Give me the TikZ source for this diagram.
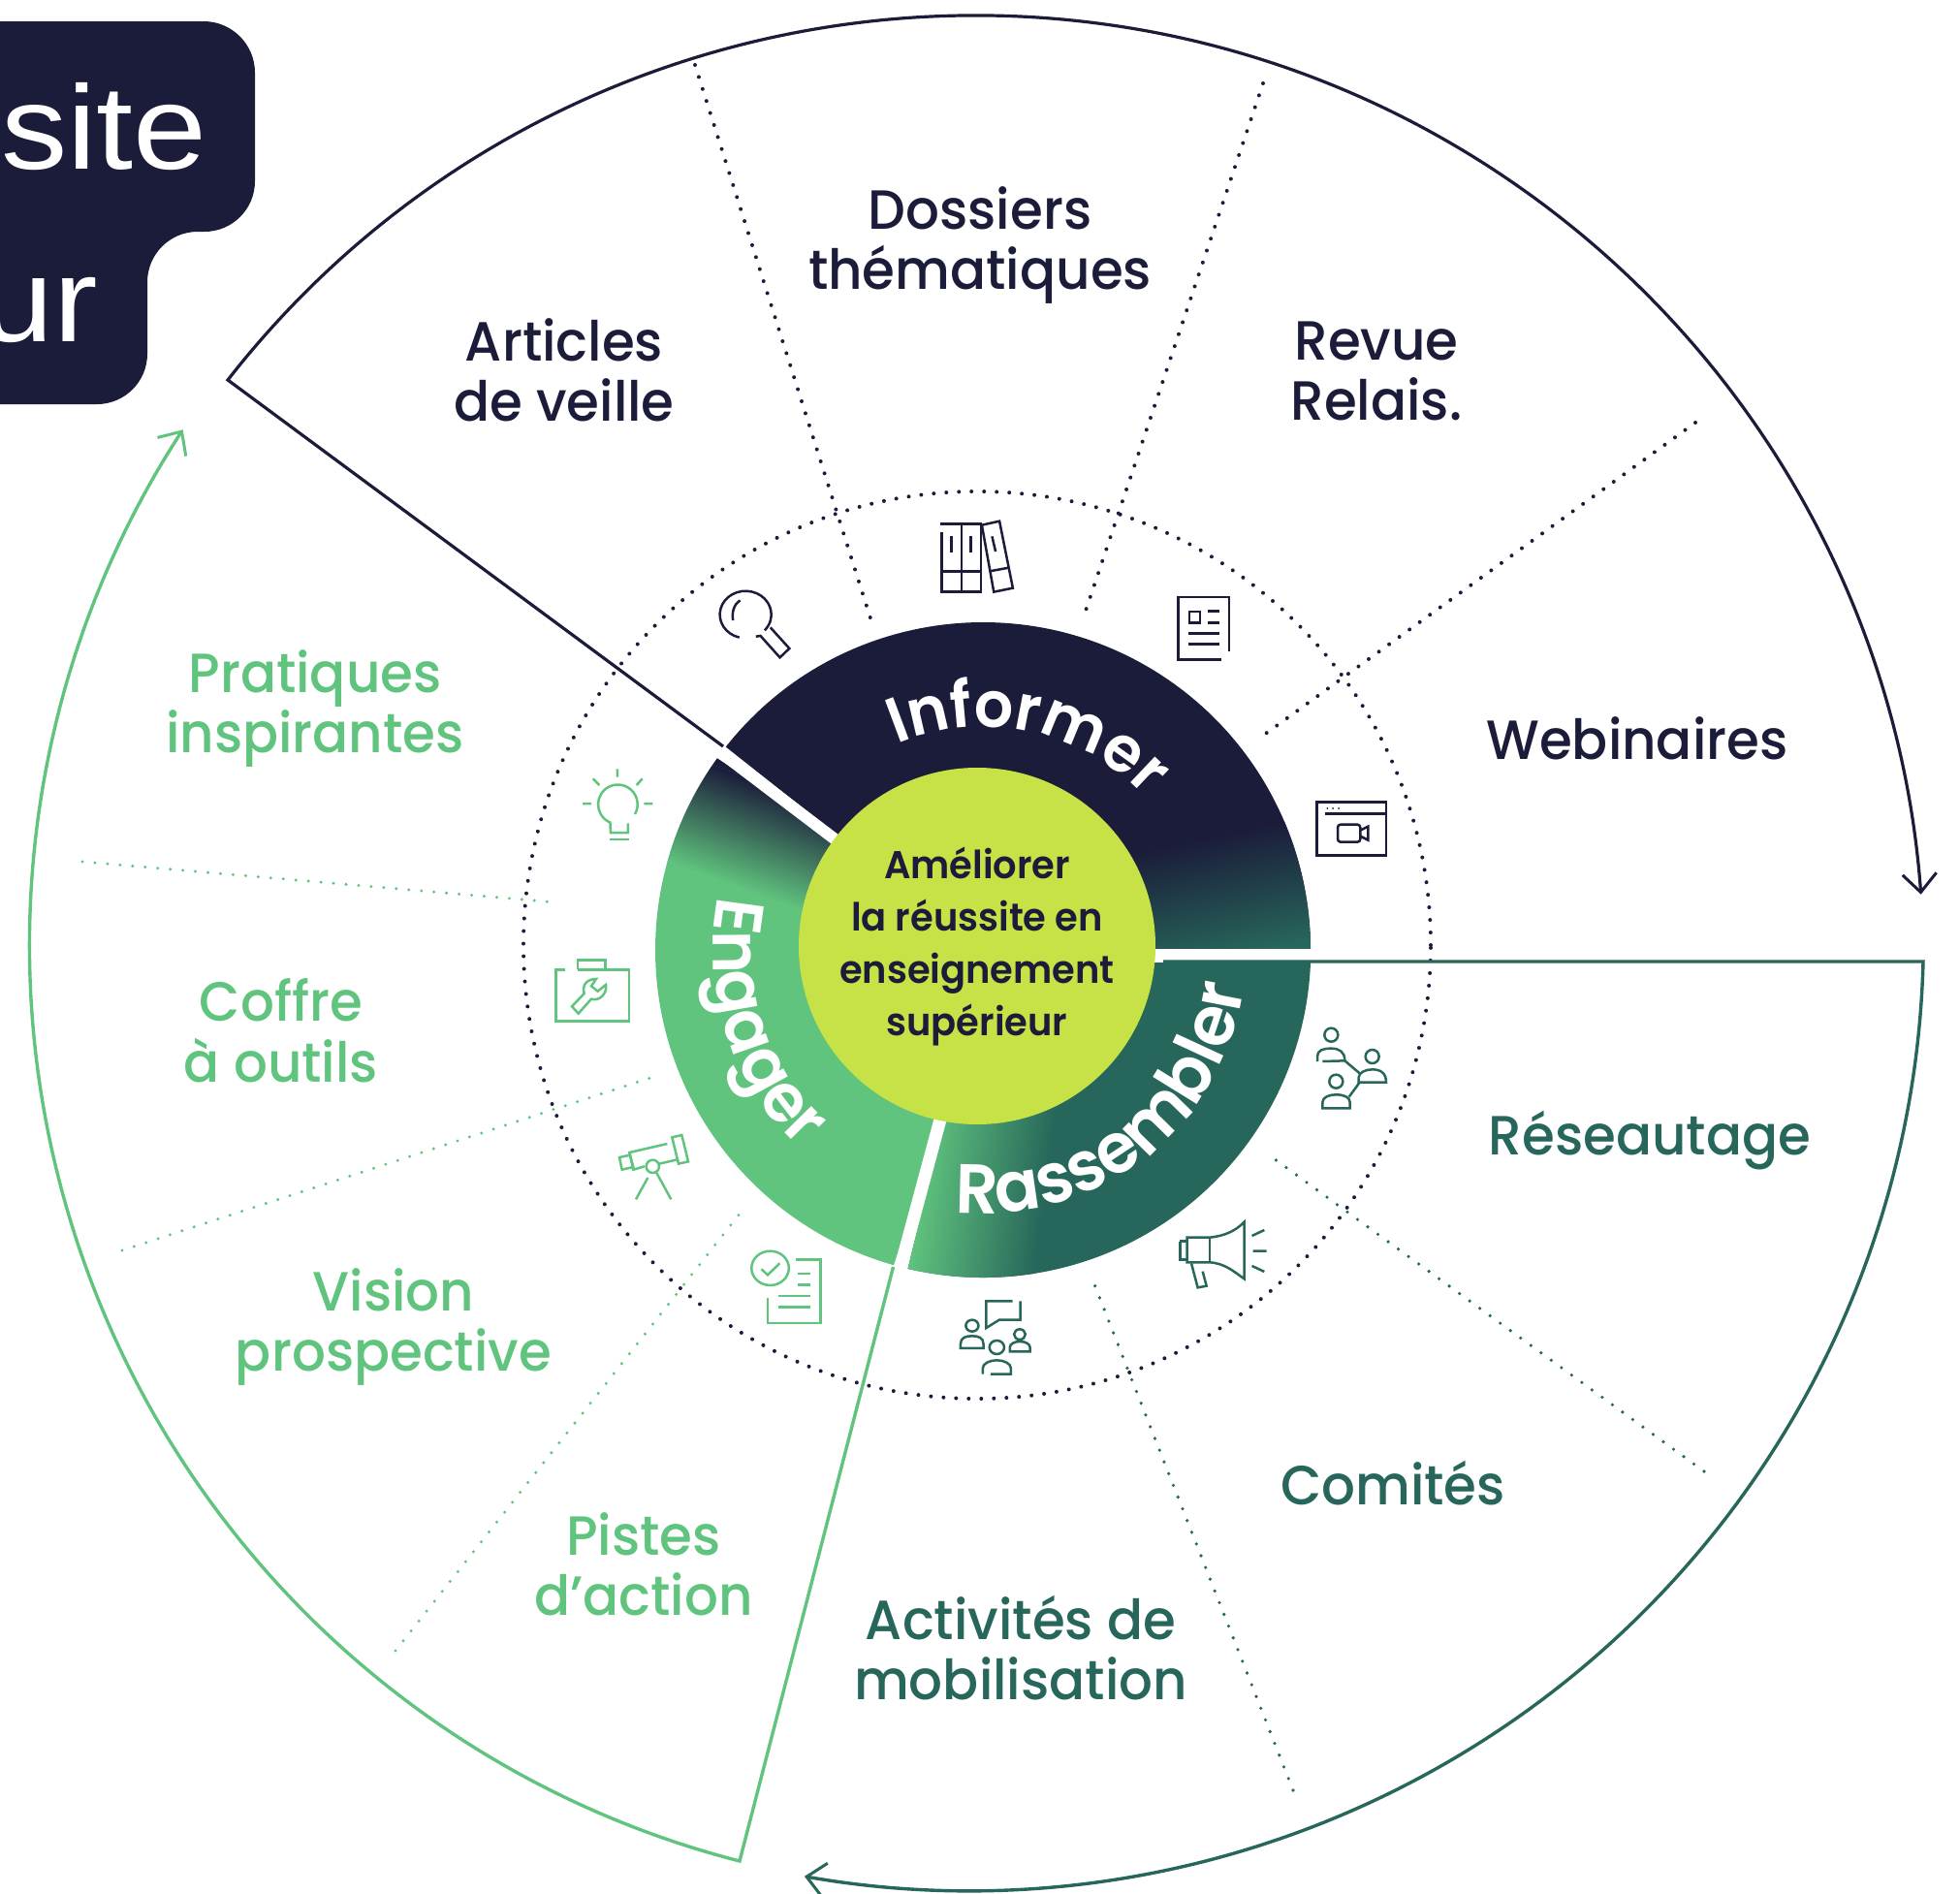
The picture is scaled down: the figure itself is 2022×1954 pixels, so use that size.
\documentclass[tikz,border=0pt]{standalone}
\usepackage{fontspec}
\usetikzlibrary{arrows.meta,decorations.text}
\setmainfont{Poppins}
\newfontfamily\popm[FakeStretch=0.96]{Poppins Medium}
\newfontfamily\pops[FakeStretch=0.96]{Poppins SemiBold}
\newfontfamily\ttl[FakeStretch=1.11]{Liberation Sans}
\definecolor{navy}{HTML}{1B1C3A}
\definecolor{dgreen}{HTML}{27665A}
\definecolor{lgreen}{HTML}{60C47E}
\definecolor{lime}{HTML}{C6E247}
\newcommand\lfont{\popm\fontsize{57}{62.5}\selectfont}
\tikzset{
 x=1pt,y=1pt,
 lab/.style={font=\lfont,align=center,inner sep=0pt,anchor=center},
 dots/.style={dash pattern=on 0pt off 13pt,line cap=round,line width=4pt},
 ico/.style={line width=2.5pt,line join=miter},
 barb/.style={-{Straight Barb[length=19pt,width=35pt,line width=3pt]}},
}
\begin{document}
\begin{tikzpicture}
\useasboundingbox (0,-1954) rectangle (2022,0);
% ---- title blob
\begin{scope}
\clip (0,-22) -- (210,-22) arc[start angle=90,end angle=0,radius=53] -- (263,-187)
  arc[start angle=0,end angle=-90,radius=52] -- (204,-239)
  arc[start angle=90,end angle=180,radius=52] -- (152,-365)
  arc[start angle=0,end angle=-90,radius=52] -- (0,-417) -- cycle;
\fill[navy] (0,0) rectangle (270,-420);
\node[text=white,font=\ttl\fontsize{123}{123}\selectfont,anchor=base east,inner sep=0pt] (t1) at (214,-174) {site};
\node[text=white,font=\ttl\fontsize{123}{123}\selectfont,anchor=base east,inner sep=0pt] (t2) at (101,-352) {ur};
\end{scope}
% ---- dotted circle
\draw[navy,dots] (1008,-975) circle[radius=468];
% ---- separators
\draw[navy,dots] (717,-67) -- (899,-641);
\draw[navy,dots] (1303,-86) -- (1120,-630);
\draw[navy,dots] (1749,-436) -- (1300,-761);
\draw[dgreen,dots,line width=3.6pt] (1758,-1518) -- (1311,-1193);
\draw[dgreen,dots,line width=3.6pt] (1334,-1847) -- (1129,-1325);
\draw[lgreen,dots,line width=3.3pt] (408,-1703) -- (764,-1251);
\draw[lgreen,dots,line width=3.3pt] (126,-1290) -- (671,-1112);
\draw[lgreen,dots,line width=3.3pt] (85,-889) -- (574,-931);
% ---- ring sectors
\begin{scope}
\clip (1014,-980) ++(141.7:338) arc[start angle=141.7,end angle=-1,radius=338] -- (1014,-980) -- cycle;
\fill[navy] (600,-500) rectangle (1400,-1000);
\begin{scope}[transform canvas={rotate around={12:(1200,-930)}}]
\shade[top color=navy,bottom color=dgreen] (1000,-875) rectangle (1500,-1000);
\fill[dgreen] (1000,-999) rectangle (1500,-1100);
\end{scope}
\end{scope}
\begin{scope}
\clip (1014,-993) -- (1352,-993) arc[start angle=-2.2,end angle=-103.3,radius=338] -- (975,-1150) -- cycle;
\fill[dgreen] (800,-950) rectangle (1400,-1400);
\begin{scope}[transform canvas={rotate around={-8:(1000,-1250)}}]
\fill[lgreen] (700,-1600) rectangle (945,-800);
\shade[left color=lgreen,right color=dgreen] (945,-1600) rectangle (1075,-800);
\end{scope}
\end{scope}
\begin{scope}
\clip (1014,-980) ++(254.2:338) arc[start angle=254.2,end angle=144.2,radius=338] -- (1010,-960) -- (975,-1150) -- cycle;
\fill[lgreen] (600,-600) rectangle (1100,-1400);
\begin{scope}[transform canvas={rotate around={-20:(743,-776)}}]
\fill[navy] (400,-500) rectangle (1300,-791);
\shade[top color=navy,bottom color=lgreen] (400,-791) rectangle (1300,-901);
\end{scope}
\end{scope}
% ---- white gaps
\fill[white] (1000,-979) rectangle (1356,-990);
\draw[white,line width=12pt] (722,-760) -- (880,-880);
\draw[white,line width=13pt] (970,-1155) -- (925,-1322);
% ---- outlines with arrows
\draw[navy,line width=3.2pt,line join=miter,barb] (746,-770) -- (235,-392)
  arc[start angle=142,end angle=4.2,radius=978.4];
\draw[dgreen,line width=3.4pt,line join=miter,barb] (1200,-992) -- (1984,-992)
  arc[start angle=-1.5,end angle=-99.95,radius=984.4];
\draw[lgreen,line width=3.4pt,line join=miter,barb] (921.5,-1307) -- (763,-1920)
  arc[start angle=255.6,end angle=146.9,radius=975];
% ---- lime circle
\node[circle,fill=lime,minimum size=368pt,inner sep=0pt] (hub) at (1008,-976) {};
\node[font=\pops\fontsize{40}{54}\selectfont,text=navy,align=center,inner sep=0pt] (hubt) at (1008,-976) {Améliorer\\la réussite en\\enseignement\\supérieur};
% ---- ring texts
\path[decorate,decoration={text along path,text align=center,
  text={|\pops\fontsize{66}{66}\selectfont\color{white}|Informer}}]
  (1014,-980) ++(130:230) arc[start angle=130,end angle=26,radius=230];
\path[decorate,decoration={text along path,text align=center,
  text={|\pops\fontsize{70}{70}\selectfont\color{white}|Engager}}]
  (1014,-980) ++(149.5:278) arc[start angle=149.5,end angle=246.5,radius=278];
\path[decorate,decoration={text along path,text align=center,
  text={|\pops\fontsize{72}{72}\selectfont\color{white}|Rassembler}}]
  (1014,-980) ++(-115.5:272) arc[start angle=-115.5,end angle=11.5,radius=272];
% ---- labels
\node[lab,text=navy] (a1) at (582,-382) {Articles\\de veille};
\node[lab,text=navy] (a2) at (1011,-253) {Dossiers\\thématiques};
\node[lab,text=navy] (a3) at (1420,-383) {Revue\\Relais.};
\node[lab,text=navy] (a4) at (1689,-762) {Webinaires};
\node[lab,text=dgreen] (b1) at (1702,-1177) {Réseautage};
\node[lab,text=dgreen] (b2) at (1437,-1530) {Comités};
\node[lab,text=dgreen] (b3) at (1053,-1700) {Activités de\\mobilisation};
\node[lab,text=lgreen] (c1) at (664,-1614) {Pistes\\d’action};
\node[lab,text=lgreen] (c2) at (406,-1369) {Vision\\prospective};
\node[lab,text=lgreen] (c3) at (290,-1063) {Coffre\\à outils};
\node[lab,text=lgreen] (c4) at (325,-731) {Pratiques\\inspirantes};
% ---- icons top
\begin{scope}[shift={(730,-520)},x=0.3636pt,y=-0.3333pt,navy,ico]
\draw (90,413) arc[start angle=104,end angle=402,radius=73];
\draw (92,298) .. controls (75,310) and (68,335) .. (72,360);
\draw (137,410) -- (150,408) -- (205,475) -- (232,447) -- (178,382);
\draw (660,62) -- (775,62) -- (775,272) -- (664,272) -- (664,88);
\draw (720,62) -- (720,272) (664,208) -- (775,208);
\draw (691,100) -- (691,150) (747,100) -- (747,150);
\draw (778,65) -- (828,53) -- (866,260) -- (812,272) -- cycle;
\draw (800,208) -- (855,197) (807,100) -- (817,147);
\draw (1480,455) -- (1480,288) -- (1335,288) -- (1335,482) -- (1458,482);
\draw (1367,333) rectangle (1397,367);
\draw (1420,332) -- (1452,332) (1420,367) -- (1452,367) (1365,400) -- (1452,400) (1365,434) -- (1452,434);
\end{scope}
% video
\begin{scope}[shift={(1340,-810)},x=0.3333pt,y=-0.3333pt,navy,ico]
\draw (56,52) rectangle (270,218);
\draw[line width=3pt] (80,87) -- (267,87);
\fill (88,72) circle[radius=3] (105,72) circle[radius=3] (123,72) circle[radius=3];
\draw[rounded corners=3pt] (120,122) rectangle (190,176);
\draw (190,140) -- (214,128) -- (214,170) -- (190,158);
\end{scope}
% network
\begin{scope}[shift={(1350,-1050)},x=0.3333pt,y=-0.3333pt,dgreen,ico]
\draw (70,53) circle[radius=21] (197,120) circle[radius=21] (85,197) circle[radius=21];
\draw (27,135) -- (27,120) .. controls (27,100) and (45,95) .. (70,95) .. controls (95,95) and (112,105) .. (112,133) -- (43,135);
\draw (155,200) -- (155,185) .. controls (155,170) and (175,160) .. (197,160) .. controls (222,160) and (240,170) .. (240,200) -- cycle;
\draw (43,280) -- (43,262) .. controls (43,245) and (65,238) .. (85,238) .. controls (108,238) and (128,245) .. (128,262) -- (128,280) -- cycle;
\draw (112,133) -- (158,172) (158,200) -- (125,245);
\end{scope}
% bottom icons
\begin{scope}[shift={(760,-1240)},x=0.3636pt,y=-0.3333pt,lgreen,ico]
\draw (95,205) circle[radius=53];
\draw (70,208) -- (88,226) -- (122,190);
\draw (168,178) -- (238,178) -- (238,375) -- (88,375) -- (88,297);
\draw (172,222) -- (210,222) (172,257) -- (210,257) (118,291) -- (210,291) (118,325) -- (210,325);
\end{scope}
\begin{scope}[shift={(760,-1240)},x=0.3636pt,y=-0.3333pt,dgreen,ico]
\draw (783,307) -- (708,307) -- (708,390) -- (745,365) -- (805,365) -- (805,307);
\draw (668,383) circle[radius=18] (803,410) circle[radius=16] (738,450) circle[radius=21];
\draw (635,453) -- (635,440) .. controls (635,420) and (650,415) .. (668,415) .. controls (686,415) and (700,420) .. (700,440) -- (700,453) -- cycle;
\draw (775,463) -- (775,450) .. controls (775,440) and (788,432) .. (803,432) .. controls (820,432) and (832,440) .. (832,450) -- (832,463) -- cycle;
\draw (720,533) -- (778,533) -- (778,515) .. controls (778,500) and (758,490) .. (738,490) .. controls (718,490) and (698,500) .. (698,515) -- (698,533);
\draw (1258,122) -- (1278,122) (1258,122) -- (1258,178) -- (1278,178);
\draw (1278,110) -- (1342,110) .. controls (1385,105) and (1415,90) .. (1440,62) -- (1440,238) .. controls (1410,215) and (1385,190) .. (1342,187) -- (1278,187) -- cycle;
\draw (1342,110) -- (1342,187);
\draw (1290,190) -- (1308,265) -- (1333,260) -- (1322,215);
\draw (1462,105) -- (1497,87) (1465,152) -- (1503,152) (1462,198) -- (1497,216);
\end{scope}
% left icons
\begin{scope}[shift={(560,-780)},x=0.3333pt,y=-0.3333pt,lgreen,ico]
\draw (285,180) arc[start angle=30,end angle=-247,radius=61] -- (210,237) -- (264,237) -- (264,208);
\draw (208,258) -- (268,258);
\draw (231,40) -- (231,65) (155,70) -- (175,90) (308,70) -- (290,90) (123,147) -- (150,147) (313,147) -- (340,147);
\draw (70,661) -- (40,661) -- (40,820) -- (267,820) -- (267,661) -- (108,661);
\draw (108,661) -- (108,632) -- (193,632) -- (193,661);
\draw (110,797) -- (90,775) -- (128,735) .. controls (120,705) and (140,690) .. (165,690) -- (150,712) -- (170,728) -- (195,708) .. controls (200,735) and (175,760) .. (150,752) -- cycle;
\end{scope}
\begin{scope}[shift={(620,-1160)},x=0.3333pt,y=-0.3333pt,lgreen,ico]
\draw (57,102) -- (90,95) -- (100,132) -- (65,140) -- cycle;
\draw (205,60) -- (88,87) -- (100,140) -- (135,130) (180,122) -- (240,108);
\draw (220,40) -- (250,33) -- (270,115) -- (240,122) -- cycle;
\draw (160,130) circle[radius=20];
\draw (145,165) -- (108,232) (172,150) -- (217,232);
\end{scope}
\end{tikzpicture}
\end{document}
